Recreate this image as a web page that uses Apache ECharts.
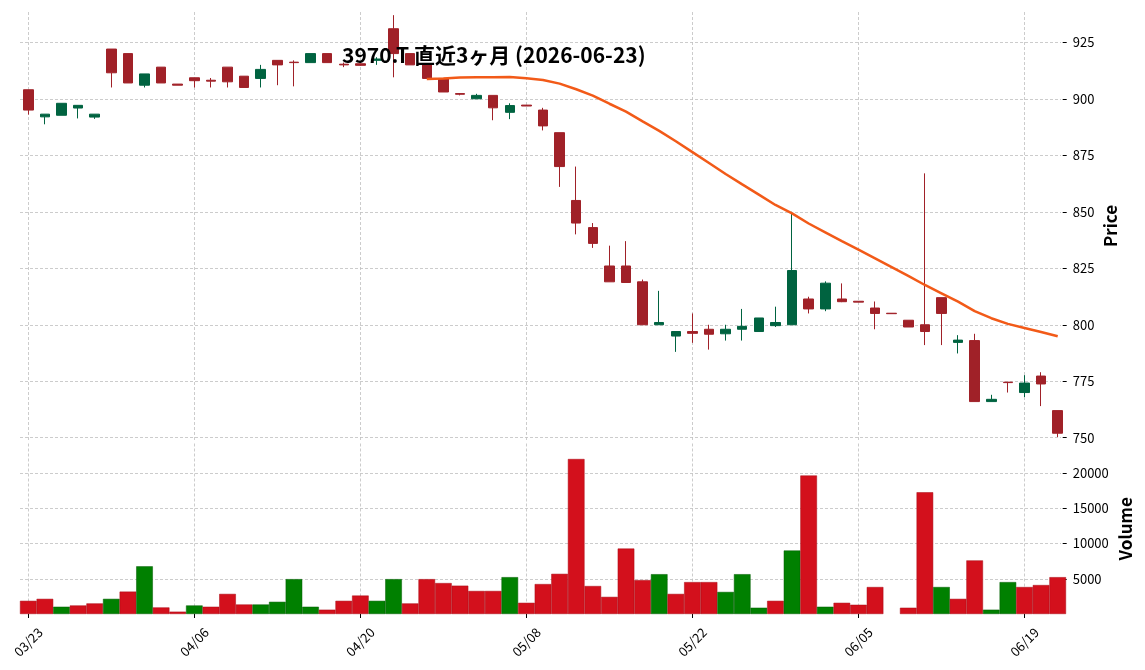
<!DOCTYPE html>
<html>
<head>
<meta charset="utf-8">
<script src="https://cdn.jsdelivr.net/npm/echarts@6/dist/echarts.min.js"></script>
<style>
html,body{margin:0;padding:0;background:#ffffff;}
#chart{width:1145px;height:670px;}
</style>
</head>
<body>
<div id="chart"></div>
<script>
// ---------------- data ----------------
const titleText = '3970.T 直近3ヶ月 (2026-06-23)';

const dates = [
  '03/23','03/24','03/25','03/26','03/27','03/30','03/31','04/01','04/02','04/03',
  '04/06','04/07','04/08','04/09','04/10','04/13','04/14','04/15','04/16','04/17',
  '04/20','04/21','04/22','04/23','04/24','04/27','04/28','04/30','05/01','05/07',
  '05/08','05/11','05/12','05/13','05/14','05/15','05/18','05/19','05/20','05/21',
  '05/22','05/25','05/26','05/27','05/28','05/29','06/01','06/02','06/03','06/04',
  '06/05','06/08','06/09','06/10','06/11','06/12','06/15','06/16','06/17','06/18',
  '06/19','06/22','06/23'
];

const opens = [
  904, 892, 892.7, 895.9, 891.9, 922, 920, 906, 914, 906.5,
  909.3, 908.2, 914, 910, 909, 917, 916.2, 916, 920, 915.3,
  915.5, 917, 931, 920, 915.5, 909, 902.3, 900, 901.5, 894,
  897.2, 895, 885, 855, 843, 826, 826, 819, 800, 795,
  797, 798, 796, 798, 797, 799.6, 800, 811.4, 807, 811.4,
  810.4, 807.4, 805.1, 802, 800, 812, 792.2, 793, 766, 774.6,
  770, 777.3, 762
];

const closes = [
  895, 893.2, 898, 897.1, 893.2, 911.5, 907, 911, 907, 906,
  908, 907.8, 907.5, 905, 913, 915, 916, 920, 916, 915,
  914.8, 917.6, 920, 915, 909, 903, 902, 901.5, 896, 897,
  896.8, 888, 870, 845, 836, 819, 818.7, 800, 801, 797,
  796.2, 795.8, 798, 799.3, 803, 801, 824, 807, 818.4, 810.2,
  810, 805, 804.9, 799, 797, 805, 793.2, 766, 767, 774.4,
  774.2, 773.8, 752
];

const lows = [
  893, 888.7, 892.7, 891.3, 891.1, 905, 907, 905, 907, 906,
  905, 905, 905, 905, 905, 906, 905.5, 916, 916, 914,
  914.5, 915, 909.5, 915, 909, 903, 901.5, 900, 890.5, 891,
  896.8, 886, 861, 840, 834, 819, 818.7, 800, 800, 788,
  792, 789, 793, 793, 797, 799, 800, 805, 806, 810,
  810, 798, 804.9, 799, 791, 791, 787.3, 766, 766, 770,
  768, 764, 750.3
];

const highs = [
  904, 893.2, 898, 897.1, 893.2, 922, 920, 911, 914, 906.5,
  909.3, 909.2, 914, 910, 915, 917, 917, 920, 920, 916,
  915.5, 918.4, 937, 920, 915.5, 909, 902.5, 902.2, 901.5, 898,
  897.2, 896, 885, 870, 845, 835, 837, 820, 815, 797,
  805, 800, 800, 807, 803, 808, 850, 812.4, 819.2, 818.3,
  810.4, 810.3, 805.1, 802, 867, 812, 795.4, 796, 769, 774.6,
  777.7, 779, 762
];

const volumes = [
  1870, 2150, 1030, 1210, 1500, 2150, 3180, 6770, 930, 330,
  1210, 1030, 2850, 1350, 1350, 1730, 4950, 1030, 610, 1870,
  2620, 1870, 4950, 1500, 4950, 4390, 4020, 3270, 3270, 5230,
  1590, 4250, 5700, 22000, 3970, 2430, 9290, 4810, 5650, 2850,
  4530, 4530, 3130, 5650, 890, 1870, 9010, 19660, 1030, 1590,
  1310, 3830, 0, 890, 17280, 3830, 2150, 7610, 610, 4530,
  3830, 4110, 5230
];

// 25-day moving average of the close
const ma25 = [
  null, null, null, null, null, null, null, null, null, null,
  null, null, null, null, null, null, null, null, null, null,
  null, null, null, null, 908.7, 909.0, 909.4, 909.5, 909.5, 909.6,
  909.1, 908.3, 906.7, 904.2, 901.4, 897.8, 894.3, 890.0, 885.8, 881.2,
  876.4, 871.6, 866.7, 862.1, 857.6, 853.0, 849.3, 844.8, 840.9, 837.0,
  833.2, 829.4, 825.5, 821.6, 817.6, 813.9, 810.2, 806.0, 802.9, 800.4,
  798.6, 796.8, 794.9
];

const priceTicks = [750, 775, 800, 825, 850, 875, 900, 925];
const volumeTicks = [5000, 10000, 15000, 20000];

// ---------------- style ----------------
const FONT = '"Noto Sans CJK JP", "Noto Sans", sans-serif';
const UP = '#006340', DOWN = '#A02128';
const VUP = '#008000', VDOWN = '#D3101C';
const GRID_LINE = {color: '#bfbfbf', type: [3, 2], width: 0.8};

const candleData = dates.map((d, i) => [opens[i], closes[i], lows[i], highs[i]]);
const volumeData = volumes.map((v, i) => {
  const up = i === 0 ? closes[i] >= opens[i] : closes[i] >= closes[i - 1];
  return {value: v, itemStyle: {color: up ? VUP : VDOWN, borderColor: up ? '#005a00' : '#a80b15',
          borderWidth: v > 0 ? 0.5 : 0}};
});
const volMax = Math.max.apply(null, volumes) * 1.1;

const PL = 28.3, PR = 1145 - 1057.7;

const chart = echarts.init(document.getElementById('chart'), null, {renderer: 'canvas'});
chart.setOption({
  animation: false,
  backgroundColor: '#ffffff',
  textStyle: {fontFamily: FONT},
  title: {
    text: titleText, left: 337, top: 40,
    textStyle: {fontSize: 21, fontWeight: 'bold', color: '#000', fontFamily: FONT}
  },
  grid: [
    {left: PL, right: PR, top: 12, height: 428},
    {left: PL, right: PR, top: 443.5, height: 170.5}
  ],
  xAxis: [
    {
      type: 'category', data: dates, gridIndex: 0, boundaryGap: false,
      axisLine: {show: false}, axisTick: {show: false}, axisLabel: {show: false},
      splitLine: {show: true, interval: 9, lineStyle: GRID_LINE}
    },
    {
      type: 'category', data: dates, gridIndex: 1, boundaryGap: false,
      axisLine: {show: false},
      axisTick: {show: true, interval: 9, length: 4, lineStyle: {color: '#000', width: 1}},
      axisLabel: {interval: 9, rotate: 45, align: 'center', verticalAlign: 'middle', margin: 28,
                  fontSize: 13, color: '#000', fontFamily: FONT},
      splitLine: {show: true, interval: 9, lineStyle: GRID_LINE}
    }
  ],
  yAxis: [
    {
      type: 'value', gridIndex: 0, position: 'right', offset: 5,
      min: 749, max: 938.4,
      axisLine: {show: false},
      axisTick: {show: true, length: 4, customValues: priceTicks, lineStyle: {color: '#000', width: 1}},
      axisLabel: {customValues: priceTicks, margin: 10, fontSize: 13, color: '#000', fontFamily: FONT,
                  formatter: v => String(v)},
      splitLine: {show: false},
      name: 'Price', nameLocation: 'middle', nameRotate: 90, nameGap: 39, nameMoveOverlap: false,
      nameTextStyle: {fontSize: 17, fontWeight: 'bold', color: '#000', fontFamily: FONT}
    },
    {
      type: 'value', gridIndex: 1, position: 'right', offset: 5,
      min: 0, max: volMax,
      axisLine: {show: false},
      axisTick: {show: true, length: 4, customValues: volumeTicks, lineStyle: {color: '#000', width: 1}},
      axisLabel: {customValues: volumeTicks, margin: 10, fontSize: 13, color: '#000', fontFamily: FONT,
                  formatter: v => String(v)},
      splitLine: {show: false},
      name: 'Volume', nameLocation: 'middle', nameRotate: 90, nameGap: 54, nameMoveOverlap: false,
      nameTextStyle: {fontSize: 17, fontWeight: 'bold', color: '#000', fontFamily: FONT}
    }
  ],
  series: [
    {
      type: 'line', xAxisIndex: 0, yAxisIndex: 0, data: [], silent: true,
      markLine: {
        silent: true, z: 0, symbol: ['none', 'none'], label: {show: false}, animation: false,
        lineStyle: GRID_LINE,
        data: priceTicks.map(v => [{x: 20, yAxis: v}, {x: 1061, yAxis: v}])
      }
    },
    {
      type: 'line', xAxisIndex: 1, yAxisIndex: 1, data: [], silent: true,
      markLine: {
        silent: true, z: 0, symbol: ['none', 'none'], label: {show: false}, animation: false,
        lineStyle: GRID_LINE,
        data: volumeTicks.map(v => [{x: 20, yAxis: v}, {x: 1061, yAxis: v}])
      }
    },
    {
      type: 'candlestick', xAxisIndex: 0, yAxisIndex: 0, data: candleData,
      barWidth: 10, clip: false, z: 2,
      itemStyle: {color: UP, color0: DOWN, borderColor: UP, borderColor0: DOWN, borderWidth: 1}
    },
    {
      type: 'line', xAxisIndex: 0, yAxisIndex: 0, data: ma25, z: 3,
      showSymbol: false, symbol: 'none', connectNulls: false, clip: false,
      lineStyle: {color: '#F25A18', width: 2.5}
    },
    {
      type: 'bar', xAxisIndex: 1, yAxisIndex: 1, data: volumeData,
      barWidth: '100%', clip: false
    }
  ]
});
</script>
</body>
</html>
